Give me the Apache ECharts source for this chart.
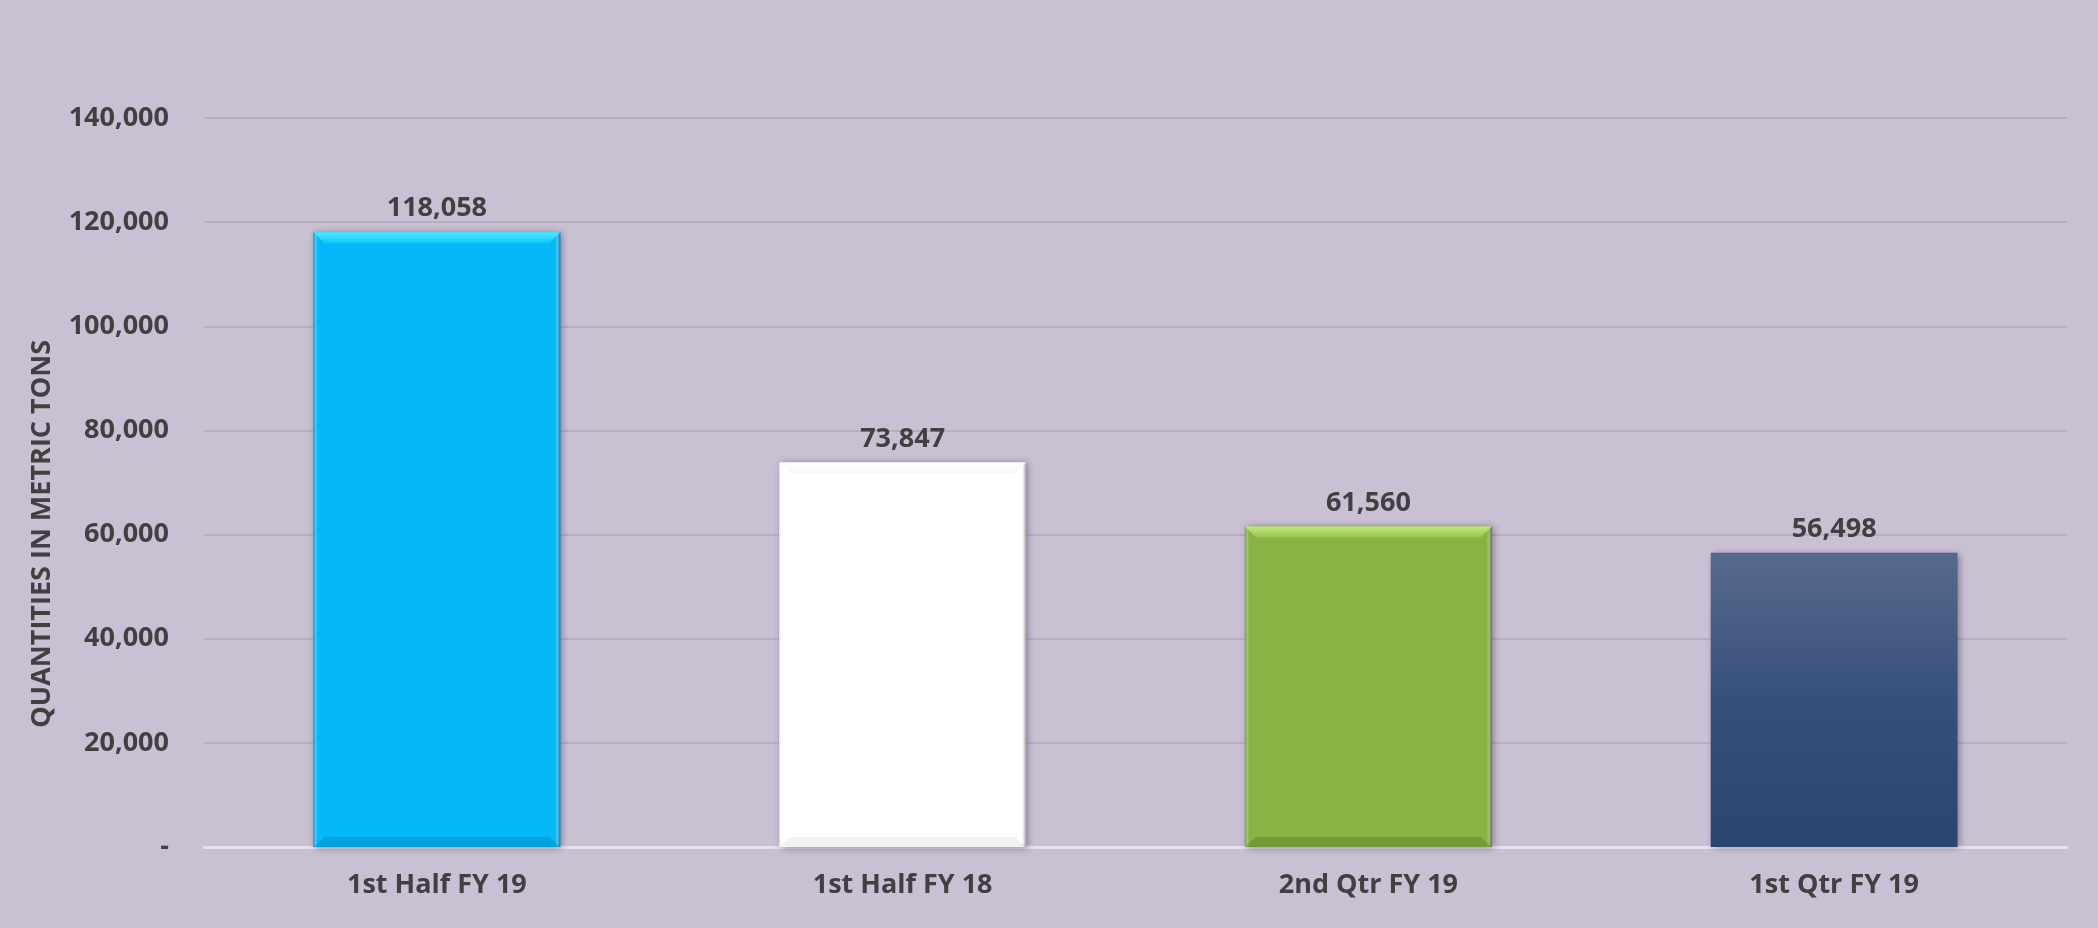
<!DOCTYPE html>
<html>
<head>
<meta charset="utf-8">
<script src="https://cdn.jsdelivr.net/npm/echarts@6/dist/echarts.min.js"></script>
<style>
html,body{margin:0;padding:0;background:#C9C0D4;}
#chart{width:2098px;height:928px;}
</style>
</head>
<body>
<div id="chart"></div>
<script>
const categories = ['1st Half FY 19', '1st Half FY 18', '2nd Qtr FY 19', '1st Qtr FY 19'];
const quantities = [118058, 73847, 61560, 56498];
const axisTitle = 'QUANTITIES IN METRIC TONS';
const yMin = 0, yMax = 140000, yInterval = 20000;

const FONT = "'Open Sans', 'Noto Sans', sans-serif";
const TEXT = '#404040';
const FS = 27;

const barFills = [
  '#05B9F8',
  '#FFFFFF',
  '#89B343',
  new echarts.graphic.LinearGradient(0, 0, 0, 1, [
    { offset: 0, color: '#586A8C' },
    { offset: 0.5, color: '#36507D' },
    { offset: 1, color: '#2A4572' }
  ])
];
// bevel styles per bar
const bevelStyles = [
  { top: '#4DEBFF', topIn: '#12C4FA', left: '#0796CC', right: '#06709C', bottom: 'rgba(0,90,140,0.25)' },
  { top: '#FFFFFF', topIn: '#F7F7F7', left: '#E2E2E2', right: '#9A9A9A', bottom: 'rgba(0,0,0,0.05)' },
  { top: '#C2EA7C', topIn: '#98C250', left: '#6F9638', right: '#54742A', bottom: 'rgba(40,70,10,0.22)' },
  null
];

const fmt = v => v === 0 ? '-' : v.toLocaleString('en-US');

function renderBevel(params, api) {
  const i = params.dataIndex;
  const st = bevelStyles[i];
  if (!st) return null;
  const topPt = api.coord([api.value(0), api.value(1)]);
  const basePt = api.coord([api.value(0), 0]);
  const w = api.size([1, 0])[0] * 0.53;
  const x0 = topPt[0] - w / 2, x1 = topPt[0] + w / 2;
  const y0 = topPt[1], y1 = basePt[1];
  const t = 11, s = 4, bb = 10;
  return {
    type: 'group',
    silent: true,
    children: [
      { type: 'rect', shape: { x: x0, y: y0, width: s, height: y1 - y0 },
        style: { fill: new echarts.graphic.LinearGradient(0, 0, 1, 0, [
          { offset: 0, color: st.left }, { offset: 1, color: 'rgba(255,255,255,0)' }]) } },
      { type: 'rect', shape: { x: x1 - s - 1, y: y0, width: s + 1, height: y1 - y0 },
        style: { fill: new echarts.graphic.LinearGradient(0, 0, 1, 0, [
          { offset: 0, color: 'rgba(255,255,255,0)' }, { offset: 1, color: st.right }]) } },
      { type: 'polygon', shape: { points: [[x0, y1], [x1, y1], [x1 - t, y1 - bb], [x0 + t, y1 - bb]] },
        style: { fill: st.bottom } },
      { type: 'polygon', shape: { points: [[x0, y0], [x1, y0], [x1 - t, y0 + t], [x0 + t, y0 + t]] },
        style: { fill: new echarts.graphic.LinearGradient(0, 0, 0, 1, [
          { offset: 0, color: st.top }, { offset: 1, color: st.topIn }]) } }
    ]
  };
}

const chart = echarts.init(document.getElementById('chart'), null, { renderer: 'canvas' });
chart.setOption({
  backgroundColor: '#C9C0D4',
  animation: false,
  textStyle: { fontFamily: FONT },
  grid: { left: 204, right: 31, top: 118, bottom: 81, containLabel: false },
  graphic: [{
    type: 'text',
    left: 29,
    top: 340,
    rotation: Math.PI / 2,
    style: {
      text: axisTitle,
      fontFamily: FONT,
      fontSize: FS,
      fontWeight: 'bold',
      fill: TEXT
    }
  }],
  xAxis: {
    type: 'category',
    data: categories,
    axisLine: { show: true, lineStyle: { color: '#E6E2EC', width: 3 } },
    axisTick: { show: false },
    axisLabel: { margin: 25, fontSize: FS, fontWeight: 'bold', color: TEXT, fontFamily: FONT }
  },
  yAxis: {
    type: 'value',
    min: yMin,
    max: yMax,
    interval: yInterval,
    axisLine: { show: false },
    axisTick: { show: false },
    splitLine: { lineStyle: { color: '#B8ADC5', width: 2 } },
    axisLabel: { margin: 35, fontSize: FS, fontWeight: 'bold', color: TEXT, fontFamily: FONT, formatter: fmt }
  },
  series: [
    {
      type: 'bar',
      barWidth: '53%',
      data: quantities.map((v, i) => ({
        value: v,
        itemStyle: {
          color: barFills[i],
          shadowColor: 'rgba(40,30,60,0.45)',
          shadowBlur: 7,
          shadowOffsetX: 2,
          shadowOffsetY: 1
        }
      })),
      label: {
        show: true,
        position: 'top',
        distance: 10,
        fontSize: FS,
        fontWeight: 'bold',
        color: TEXT,
        fontFamily: FONT,
        formatter: p => fmt(p.value)
      }
    },
    {
      type: 'custom',
      renderItem: renderBevel,
      encode: { x: 0, y: 1 },
      data: quantities.map((v, i) => [i, v]),
      z: 3,
      silent: true
    }
  ]
});
</script>
</body>
</html>
